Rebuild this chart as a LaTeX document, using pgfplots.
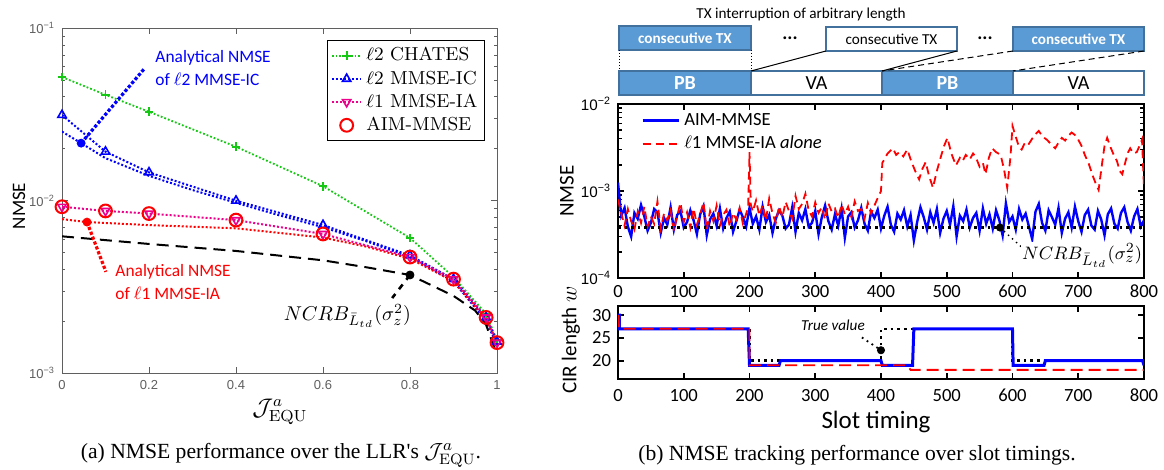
\documentclass[border=0pt]{standalone}
\usepackage{pgfplots}
\pgfplotsset{compat=1.18}
\usepackage{pgfplotstable}
\usepackage{fontspec}
\newfontfamily\carl{Carlito}
\newfontfamily\hel{Liberation Sans}
\newfontfamily\tnr{Liberation Serif}
\definecolor{mgreen}{RGB}{20,200,20}
\definecolor{pbfill}{RGB}{91,155,213}
\definecolor{pbedge}{RGB}{65,113,156}
\definecolor{mgray}{RGB}{95,95,95}

% NMSE tracking, AIM-MMSE (every 5 slots)
\pgfplotstableread[row sep=\\]{x y\\
0 12.5e-4\\5 5.2e-4\\10 6.4e-4\\15 3.9e-4\\20 3.0e-4\\25 5.6e-4\\30 4.8e-4\\35 6.9e-4\\40 5.1e-4\\45 3.5e-4\\
50 4.3e-4\\55 6.2e-4\\60 5.7e-4\\65 3.3e-4\\70 4.9e-4\\75 4.1e-4\\80 6.5e-4\\85 3.6e-4\\90 5.3e-4\\95 5.9e-4\\
100 3.8e-4\\105 4.4e-4\\110 6.0e-4\\115 4.6e-4\\120 3.2e-4\\125 5.4e-4\\130 6.7e-4\\135 3.1e-4\\140 4.7e-4\\145 5.5e-4\\
150 4.0e-4\\155 6.3e-4\\160 3.7e-4\\165 4.9e-4\\170 5.8e-4\\175 3.4e-4\\180 4.5e-4\\185 6.1e-4\\190 5.0e-4\\195 3.9e-4\\
200 6.4e-4\\205 4.2e-4\\210 5.1e-4\\215 3.6e-4\\220 6.6e-4\\225 4.4e-4\\230 5.3e-4\\235 3.3e-4\\240 4.8e-4\\245 6.0e-4\\
250 5.2e-4\\255 3.7e-4\\260 4.1e-4\\265 6.5e-4\\270 3.4e-4\\275 5.6e-4\\280 4.6e-4\\285 6.2e-4\\290 3.9e-4\\295 4.3e-4\\
300 5.9e-4\\305 3.2e-4\\310 5.0e-4\\315 6.8e-4\\320 4.5e-4\\325 3.6e-4\\330 5.4e-4\\335 4.0e-4\\340 6.3e-4\\345 2.9e-4\\
350 5.1e-4\\355 5.7e-4\\360 3.8e-4\\365 4.6e-4\\370 6.4e-4\\375 4.2e-4\\380 3.5e-4\\385 5.8e-4\\390 4.9e-4\\395 6.1e-4\\
400 3.7e-4\\405 5.2e-4\\410 6.6e-4\\415 4.1e-4\\420 3.4e-4\\425 5.5e-4\\430 4.7e-4\\435 6.0e-4\\440 3.9e-4\\445 5.3e-4\\
450 2.7e-4\\455 4.4e-4\\460 6.5e-4\\465 5.0e-4\\470 3.6e-4\\475 5.7e-4\\480 4.3e-4\\485 6.2e-4\\490 3.3e-4\\495 4.8e-4\\
500 5.9e-4\\505 4.1e-4\\510 6.7e-4\\515 3.0e-4\\520 5.2e-4\\525 4.5e-4\\530 6.1e-4\\535 3.8e-4\\540 4.9e-4\\545 5.6e-4\\
550 3.5e-4\\555 6.3e-4\\560 4.2e-4\\565 5.4e-4\\570 3.7e-4\\575 6.0e-4\\580 4.6e-4\\585 3.1e-4\\590 7.2e-4\\595 4.4e-4\\
600 5.1e-4\\605 3.6e-4\\610 6.2e-4\\615 4.7e-4\\620 5.5e-4\\625 3.9e-4\\630 2.8e-4\\635 5.8e-4\\640 7.1e-4\\645 4.3e-4\\
650 3.5e-4\\655 6.0e-4\\660 5.0e-4\\665 4.1e-4\\670 6.4e-4\\675 3.3e-4\\680 4.8e-4\\685 5.7e-4\\690 3.8e-4\\695 6.6e-4\\
700 4.5e-4\\705 3.4e-4\\710 5.3e-4\\715 6.1e-4\\720 4.0e-4\\725 3.6e-4\\730 5.9e-4\\735 4.7e-4\\740 3.1e-4\\745 5.4e-4\\
750 6.3e-4\\755 4.2e-4\\760 3.7e-4\\765 5.6e-4\\770 6.5e-4\\775 4.4e-4\\780 3.5e-4\\785 5.1e-4\\790 6.2e-4\\795 3.9e-4\\
800 4.6e-4\\
}\aimtab

% NMSE tracking, l1 MMSE-IA alone
\pgfplotstableread[row sep=\\]{x y\\
0 8.0e-4\\5 5.5e-4\\10 4.0e-4\\15 6.2e-4\\20 4.5e-4\\25 3.6e-4\\30 5.8e-4\\35 4.3e-4\\40 6.6e-4\\45 3.9e-4\\
50 5.1e-4\\55 4.2e-4\\60 7.6e-4\\65 3.7e-4\\70 5.5e-4\\75 4.6e-4\\80 6.0e-4\\85 3.5e-4\\90 5.2e-4\\95 7.3e-4\\
100 4.4e-4\\105 5.7e-4\\110 3.8e-4\\115 6.3e-4\\120 4.1e-4\\125 5.4e-4\\130 7.4e-4\\135 3.6e-4\\140 5.9e-4\\145 4.5e-4\\
150 6.8e-4\\155 4.0e-4\\160 5.3e-4\\165 6.1e-4\\170 3.9e-4\\175 5.6e-4\\180 4.7e-4\\185 6.4e-4\\190 4.2e-4\\195 5.5e-4\\
198 6.5e-4\\200 28e-4\\202 7.0e-4\\205 5.8e-4\\210 7.8e-4\\215 5.2e-4\\220 6.9e-4\\225 4.6e-4\\230 8.2e-4\\235 5.5e-4\\
240 4.3e-4\\245 6.7e-4\\250 5.0e-4\\255 7.5e-4\\260 5.9e-4\\265 4.8e-4\\270 8.8e-4\\275 6.2e-4\\280 7.1e-4\\285 9.3e-4\\
290 6.0e-4\\295 5.1e-4\\300 7.4e-4\\305 5.6e-4\\310 6.5e-4\\315 4.7e-4\\320 7.2e-4\\325 5.8e-4\\330 6.3e-4\\335 4.9e-4\\
340 7.0e-4\\345 5.4e-4\\350 6.6e-4\\355 5.0e-4\\360 7.6e-4\\365 5.9e-4\\370 6.2e-4\\375 4.8e-4\\380 7.3e-4\\385 5.5e-4\\
390 6.8e-4\\395 8.3e-4\\400 10e-4\\402 21e-4\\410 27e-4\\418 31e-4\\423 26e-4\\428 28e-4\\434 25e-4\\440 30e-4\\
446 22e-4\\452 17e-4\\458 13.6e-4\\463 18e-4\\468 21.5e-4\\473 15e-4\\479 10.9e-4\\485 17e-4\\491 24.7e-4\\496 33e-4\\
501 40.8e-4\\507 27e-4\\514 19.7e-4\\520 24e-4\\524 22e-4\\529 26e-4\\535 23e-4\\540 27e-4\\544 24.7e-4\\550 19e-4\\
555 21e-4\\559 15.6e-4\\564 24e-4\\569 31e-4\\575 28e-4\\582 26e-4\\587 18e-4\\592 10.9e-4\\597 25e-4\\600 56e-4\\
605 42e-4\\610 32e-4\\614 30e-4\\619 36e-4\\624 34e-4\\630 40e-4\\635 45e-4\\640 49e-4\\646 42e-4\\652 39e-4\\
658 35e-4\\665 31e-4\\670 36e-4\\675 40.8e-4\\680 38e-4\\685 43e-4\\690 47e-4\\695 44e-4\\700 39e-4\\705 33e-4\\
710 26e-4\\716 20.6e-4\\722 15e-4\\727 12e-4\\731 10.3e-4\\736 20e-4\\740 33e-4\\744 40.8e-4\\749 32e-4\\754 26e-4\\
759 22e-4\\763 17e-4\\767 15.6e-4\\772 22e-4\\776 28e-4\\779 31e-4\\784 27e-4\\789 28e-4\\794 34e-4\\797 39e-4\\
800 11e-4\\
}\iatab

\begin{document}
\begin{tikzpicture}
\useasboundingbox (0,0) rectangle (582pt,-235pt);

% ---------------- (a) ----------------
\begin{axis}[
  at={(31pt,-186.5pt)}, anchor=south west, scale only axis,
  width=217.5pt, height=172.5pt,
  xmin=0, xmax=1, ymode=log, ymin=1e-3, ymax=1e-1,
  axis line style={mgray}, tick style={mgray}, tick align=inside,
  major tick length=3pt, minor tick length=1.6pt,
  xtick={0,0.2,0.4,0.6,0.8,1},
  ytick={1e-3,1e-2,1e-1},
  yticklabels={10\textsuperscript{−3},10\textsuperscript{−2},10\textsuperscript{−1}},
  minor ytick={2e-3,3e-3,4e-3,5e-3,6e-3,7e-3,8e-3,9e-3,2e-2,3e-2,4e-2,5e-2,6e-2,7e-2,8e-2,9e-2},
  ticklabel style={font=\hel\fontsize{6.5}{7}\selectfont, text=mgray},
  /pgf/number format/assume math mode=true,
  legend cell align=left,
  legend style={at={(0.972,0.965)}, anchor=north east, draw=black,
    font=\fontsize{9.4}{10}\selectfont, inner sep=1.5pt, row sep=-0.6pt},
  legend image code/.code={\draw[mark repeat=2, mark phase=2, #1]
    plot coordinates {(0cm,0cm) (0.26cm,0cm) (0.52cm,0cm)};},
]
\addplot[mgreen, densely dotted, line width=0.9pt, mark=+, mark size=2.2pt, mark options={solid}]
  coordinates {(0,0.052)(0.1,0.041)(0.2,0.0327)(0.4,0.0205)(0.6,0.0121)(0.8,0.00607)(0.9,0.0036)(0.975,0.0022)(1,0.00155)};
\addlegendentry{$\ell$2 CHATES}
\addplot[blue, densely dotted, line width=1pt, forget plot]
  coordinates {(0,0.0251)(0.044,0.0215)(0.1,0.0176)(0.2,0.0139)(0.3,0.0115)(0.4,0.0097)(0.5,0.0082)(0.6,0.0070)(0.7,0.0058)(0.8,0.0047)(0.9,0.0034)(0.975,0.0020)(1,0.00145)};
\addplot[blue, densely dotted, line width=1pt, mark=triangle, mark size=2.4pt, mark options={solid, line width=0.8pt}]
  coordinates {(0,0.0313)(0.1,0.0192)(0.2,0.01456)(0.4,0.00997)(0.6,0.00721)(0.8,0.0048)(0.9,0.0035)(0.975,0.0021)(1,0.00152)};
\addlegendentry{$\ell$2 MMSE-IC}
\addplot[red, densely dotted, line width=1pt, forget plot]
  coordinates {(0,0.0078)(0.0575,0.0075)(0.2,0.0072)(0.4,0.0069)(0.6,0.0061)(0.7,0.0054)(0.8,0.0046)(0.9,0.0034)(0.975,0.00205)(1,0.00148)};
\addplot[magenta, densely dotted, line width=1pt, mark=triangle, mark size=2.4pt, mark options={solid, rotate=180, line width=0.8pt}]
  coordinates {(0,0.0092)(0.1,0.0087)(0.2,0.0084)(0.4,0.0077)(0.6,0.0064)(0.8,0.0047)(0.9,0.0035)(0.975,0.0021)(1,0.0015)};
\addlegendentry{$\ell$1 MMSE-IA}
\addplot[black, line width=1pt, dash pattern=on 6pt off 3.5pt, forget plot]
  coordinates {(0,0.0062)(0.2,0.0056)(0.4,0.0051)(0.6,0.0045)(0.7,0.0041)(0.8,0.0037)(0.9,0.0028)(0.95,0.0023)(0.975,0.0019)(1,0.00127)};
\addplot[red, only marks, mark=o, mark size=3.2pt, mark options={line width=1pt}]
  coordinates {(0,0.0092)(0.1,0.0087)(0.2,0.0084)(0.4,0.0077)(0.6,0.0064)(0.8,0.0047)(0.9,0.0035)(0.975,0.0021)(1,0.0015)};
\addlegendentry{AIM-MMSE}
% annotations
\draw[blue, densely dotted, line width=1.6pt] (axis cs:0.044,0.0215) -- (axis cs:0.1885,0.0578);
\addplot[blue, only marks, mark=*, mark size=2pt, forget plot] coordinates {(0.044,0.0215)};
\node[blue, anchor=north west, align=left, inner sep=0pt, font=\carl\fontsize{8.7}{11.5}\selectfont]
  at (axis cs:0.214,0.0745) {Analytical NMSE\\of $\ell$2 MMSE-IC};
\draw[red, densely dotted, line width=1.6pt] (axis cs:0.0575,0.0075) -- (axis cs:0.101,0.00386);
\addplot[red, only marks, mark=*, mark size=2pt, forget plot] coordinates {(0.0575,0.0075)};
\node[red, anchor=north west, align=left, inner sep=0pt, font=\carl\fontsize{8.7}{11.5}\selectfont]
  at (axis cs:0.122,0.00428) {Analytical NMSE\\of $\ell$1 MMSE-IA};
\draw[black, dashed, line width=1.3pt] (axis cs:0.8,0.0037) -- (axis cs:0.759,0.00272);
\addplot[black, only marks, mark=*, mark size=2pt, forget plot] coordinates {(0.8,0.0037)};
\node[font=\fontsize{10}{12}\selectfont] at (axis cs:0.656,0.00214) {$NCRB_{\bar{L}_{td}}(\sigma_z^2)$};
\end{axis}

\node[rotate=90, font=\carl\fontsize{9.5}{11}\selectfont] at (9.5pt,-103pt) {NMSE};
\node[font=\fontsize{11.5}{13}\selectfont] at (140pt,-206pt) {$\mathcal{J}^a_{\mathrm{EQU}}$};
\node[font=\tnr\fontsize{10.8}{12}\selectfont] at (140.5pt,-227.5pt) {(a) NMSE performance over the LLR's $\mathcal{J}^a_{\mathrm{EQU}}$.};

% ---------------- (b) diagram ----------------
\node[font=\carl\fontsize{7.6}{9}\selectfont] at (400.5pt,-7.5pt) {TX interruption of arbitrary length};
\draw[pbedge, line width=0.6pt, fill=pbfill] (309.5pt,-13pt) rectangle (375.5pt,-25pt);
\node[white, font=\carl\bfseries\fontsize{7.6}{9}\selectfont] at (342.5pt,-19pt) {consecutive TX};
\draw[pbedge, line width=0.6pt, fill=white] (413pt,-13.5pt) rectangle (478.5pt,-25.5pt);
\node[font=\carl\fontsize{7.6}{9}\selectfont] at (445.75pt,-19.5pt) {consecutive TX};
\draw[pbedge, line width=0.6pt, fill=pbfill] (506.5pt,-13.5pt) rectangle (572pt,-25.5pt);
\node[white, font=\carl\bfseries\fontsize{7.6}{9}\selectfont] at (539.25pt,-19.5pt) {consecutive TX};
\node[font=\carl\bfseries\fontsize{9.5}{10}\selectfont] at (395pt,-19pt) {...};
\node[font=\carl\bfseries\fontsize{9.5}{10}\selectfont] at (492.5pt,-19pt) {...};
\draw[pbedge, line width=0.6pt, fill=pbfill] (309.5pt,-35.5pt) rectangle (375.5pt,-47.5pt);
\draw[pbedge, line width=0.6pt, fill=white] (375.5pt,-35.5pt) rectangle (441pt,-47.5pt);
\draw[pbedge, line width=0.6pt, fill=pbfill] (441pt,-35.5pt) rectangle (506.5pt,-47.5pt);
\draw[pbedge, line width=0.6pt, fill=white] (506.5pt,-35.5pt) rectangle (572pt,-47.5pt);
\node[white, font=\carl\bfseries\fontsize{10}{11}\selectfont] at (342.5pt,-41.5pt) {PB};
\node[font=\carl\fontsize{10}{11}\selectfont] at (408.25pt,-41.5pt) {VA};
\node[white, font=\carl\bfseries\fontsize{10}{11}\selectfont] at (473.75pt,-41.5pt) {PB};
\node[font=\carl\fontsize{10}{11}\selectfont] at (539.25pt,-41.5pt) {VA};
\draw[densely dotted, line width=0.5pt] (309.5pt,-25pt) -- (309.5pt,-35.5pt);
\draw[densely dotted, line width=0.5pt] (375.5pt,-25pt) -- (375.5pt,-35.5pt);
\draw[line width=0.5pt] (413pt,-25.5pt) -- (375.5pt,-35.5pt);
\draw[line width=0.5pt] (478.5pt,-25.5pt) -- (441pt,-35.5pt);
\draw[densely dashed, line width=0.5pt] (506.5pt,-25.5pt) -- (441pt,-35.5pt);
\draw[densely dashed, line width=0.5pt] (572pt,-25.5pt) -- (506.5pt,-35.5pt);

% ---------------- (b) NMSE ----------------
\begin{axis}[
  at={(309pt,-139pt)}, anchor=south west, scale only axis,
  width=263pt, height=87pt,
  xmin=0, xmax=800, ymode=log, ymin=1e-4, ymax=1e-2,
  axis line style={line width=1.2pt}, tick style={line width=0.8pt, black}, tick align=inside,
  major tick length=3pt, minor tick length=2pt,
  xtick={0,100,...,800},
  ytick={1e-4,1e-3,1e-2},
  yticklabels={10\textsuperscript{−4},10\textsuperscript{−3},10\textsuperscript{−2}},
  minor ytick={2e-4,3e-4,4e-4,5e-4,6e-4,7e-4,8e-4,9e-4,2e-3,3e-3,4e-3,5e-3,6e-3,7e-3,8e-3,9e-3},
  xticklabel style={font=\carl\fontsize{9.3}{10}\selectfont},
  yticklabel style={font=\hel\fontsize{7.6}{8}\selectfont},
  /pgf/number format/assume math mode=true,
  legend cell align=left,
  legend style={at={(0.04,0.985)}, anchor=north west, draw=none, fill=none,
    font=\carl\fontsize{9.3}{10.5}\selectfont, inner sep=1pt, row sep=0pt},
  legend image code/.code={\draw[#1] (0cm,0cm) -- (0.64cm,0cm);},
]
\addplot[blue, line width=1.2pt] table {\aimtab};
\addlegendentry{AIM-MMSE}
\addplot[red, line width=0.9pt, dash pattern=on 4pt off 2.5pt] table {\iatab};
\addlegendentry{$\ell$1 MMSE-IA \textit{alone}}
\addplot[black, dotted, line width=1.3pt, forget plot] coordinates {(0,3.8e-4)(800,3.8e-4)};
\draw[black, dotted, line width=0.7pt] (axis cs:581,3.8e-4) -- (axis cs:619,2.09e-4);
\addplot[black, only marks, mark=*, mark size=1.8pt, forget plot] coordinates {(581,3.8e-4)};
\node[fill=white, inner sep=0.5pt, font=\fontsize{9.5}{11}\selectfont] at (axis cs:706,1.83e-4) {$NCRB_{\bar{L}_{td}}(\sigma_z^2)$};
\end{axis}
\node[rotate=90, font=\carl\fontsize{10.5}{12}\selectfont] at (283.5pt,-95.5pt) {NMSE};

% ---------------- (b) CIR length ----------------
\begin{axis}[
  at={(309pt,-189.5pt)}, anchor=south west, scale only axis,
  width=263pt, height=36.5pt,
  xmin=0, xmax=800, ymin=16, ymax=32,
  axis line style={line width=1.2pt}, tick style={line width=0.8pt, black}, tick align=inside,
  major tick length=3pt,
  xtick={0,100,...,800}, ytick={20,25,30},
  ticklabel style={font=\carl\fontsize{9.3}{10}\selectfont},
  xticklabel style={yshift=-1.5pt},
  /pgf/number format/assume math mode=true,
]
\addplot[black, dotted, line width=1.3pt]
  coordinates {(0,27)(200,27)(200,20)(400,20)(400,27)(600,27)(600,20)(800,20)};
\addplot[blue, line width=1.5pt]
  coordinates {(0,30)(2,30)(2,27)(198,27)(200,19)(245,19)(247,20)(400,20)(402,19)(448,19)(450,27)(600,27)(601,19)(648,19)(650,20)(798,20)(800,19)};
\addplot[red, line width=0.9pt, dash pattern=on 6pt off 3pt]
  coordinates {(0,30)(2,27)(200,27)(200,19)(440,19)(445,18)(800,18)};
\draw[black, dotted, line width=0.9pt] (axis cs:371,25.1) -- (axis cs:400,22.3);
\addplot[black, only marks, mark=*, mark size=1.8pt] coordinates {(400,22.3)};
\node[font=\carl\itshape\fontsize{7.6}{9}\selectfont] at (axis cs:327,27.7) {True value};
\end{axis}
\node[rotate=90, font=\carl\fontsize{10.5}{12}\selectfont] at (285.5pt,-170pt) {CIR length $w$};
\node[font=\carl\fontsize{12.5}{14}\selectfont] at (438pt,-211pt) {Slot timing};
\node[font=\tnr\fontsize{10.8}{12}\selectfont] at (428.5pt,-227.5pt) {(b) NMSE tracking performance over slot timings.};
\end{tikzpicture}
\end{document}
